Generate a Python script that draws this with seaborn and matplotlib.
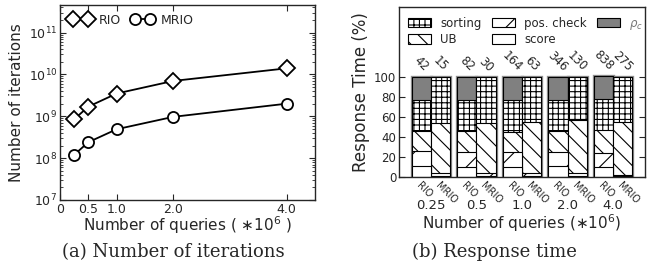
import seaborn as sns
import matplotlib.pyplot as plt
import matplotlib.patches as mpatches
import pandas as pd
import numpy as np

# data
queries = [0.25, 0.5, 1.0, 2.0, 4.0]
rio_iters = [8.5e8, 1.7e9, 3.5e9, 7.0e9, 1.4e10]
mrio_iters = [1.2e8, 2.4e8, 4.9e8, 9.7e8, 2.0e9]

sizes = ['0.25', '0.5', '1.0', '2.0', '4.0']
methods = ['RIO', 'MRIO']
components = ['score', 'pos. check', 'UB', 'sorting', r'$\rho_c$']
rio_score = [11, 10, 10, 11, 10]
rio_pos = [15, 15, 15, 14, 14]
rio_ub = [20, 21, 20, 21, 23]
rio_sort = [31, 31, 32, 31, 31]
rio_rho = [23, 23, 23, 23, 23]
mrio_score = [1, 1, 1, 1, 1]
mrio_pos = [3, 3, 3, 3, 1]
mrio_ub = [50, 50, 51, 53, 53]
mrio_sort = [46, 46, 45, 43, 45]
mrio_rho = [0, 0, 0, 0, 0]
rio_time = [42, 82, 164, 346, 838]
mrio_time = [15, 30, 63, 130, 275]

sns.set_style('ticks')
plt.rcParams['font.family'] = ['DejaVu Sans']
plt.rcParams['xtick.direction'] = 'in'
plt.rcParams['ytick.direction'] = 'in'
plt.rcParams['hatch.linewidth'] = 0.8

fig = plt.figure(figsize=(6.61, 2.72), dpi=100)

# ---- (a) number of iterations
ax1 = fig.add_axes([0.0908, 0.265, 0.3858, 0.717])
mk = dict(color='black', linewidth=1.3, markerfacecolor='white',
          markeredgecolor='black', markeredgewidth=1.3)
sns.lineplot(x=queries, y=rio_iters, marker='D', markersize=8, label='RIO', ax=ax1, **mk)
sns.lineplot(x=queries, y=mrio_iters, marker='o', markersize=8, label='MRIO', ax=ax1, **mk)
ax1.set_yscale('log')
ax1.set_ylim(1e7, 4.6e11)
ax1.set_xlim(0, 4.5)
ax1.set_xticks([0, 0.5, 1.0, 2.0, 4.0])
ax1.set_xticklabels(['0', '0.5', '1.0', '2.0', '4.0'])
ax1.tick_params(which='both', top=True, right=True, labelsize=9, pad=2)
ax1.tick_params(which='major', length=4)
ax1.tick_params(which='minor', length=2)
ax1.set_xlabel(r'Number of queries ( $\ast10^6$ )', fontsize=11, labelpad=-1)
ax1.set_ylabel('Number of iterations', fontsize=11, labelpad=3)
ax1.legend(loc='upper left', ncol=2, frameon=False, numpoints=2, handlelength=1.8,
           columnspacing=0.8, handletextpad=0.6, fontsize=9, borderaxespad=0.3)
for s in ax1.spines.values():
    s.set_linewidth(1.0)

# ---- (b) response time
ax2 = fig.add_axes([0.6036, 0.349, 0.3722, 0.625])
rows = []
for i, sz in enumerate(sizes):
    for m, parts in (('RIO', (rio_score, rio_pos, rio_ub, rio_sort, rio_rho)),
                     ('MRIO', (mrio_score, mrio_pos, mrio_ub, mrio_sort, mrio_rho))):
        row = {'size': sz, 'method': m}
        for c, p in zip(components, parts):
            row[c] = p[i]
        rows.append(row)
df = pd.DataFrame(rows)
cum = df[components].cumsum(axis=1)
cum['size'] = df['size']
cum['method'] = df['method']

styles = {
    'score': ('white', ''),
    'pos. check': ('white', '/'),
    'UB': ('white', '\\\\'),
    'sorting': ('white', '+++'),
    r'$\rho_c$': ('#808080', ''),
}

# gray outline first
sns.barplot(data=cum, x='size', y=components[-1], hue='method', hue_order=methods,
            dodge=True, width=0.85, palette=['white', 'white'], saturation=1,
            edgecolor='#909090', linewidth=2.4, legend=False, ax=ax2)
for comp in components[::-1]:
    n0 = len(ax2.patches)
    face, hatch = styles[comp]
    sns.barplot(data=cum, x='size', y=comp, hue='method', hue_order=methods,
                dodge=True, width=0.85, palette=[face, face], saturation=1,
                edgecolor='black', linewidth=0.8, legend=False, ax=ax2)
    for p in ax2.patches[n0:]:
        p.set_hatch(hatch)

bars = sorted(ax2.patches[n0:], key=lambda p: p.get_x())
centers = [p.get_x() + p.get_width() / 2 for p in bars]
times = []
for a, b in zip(rio_time, mrio_time):
    times += [a, b]
tops = cum[r'$\rho_c$'].tolist()
for x, t, top in zip(centers, times, tops):
    ax2.text(x, top + 3, str(t), rotation=-45, ha='center', va='bottom', fontsize=8.5)

ax2.set_ylim(0, 170)
ax2.set_xlim(-0.7, 4.7)
ax2.set_yticks([0, 20, 40, 60, 80, 100])
ax2.tick_params(axis='y', right=True, labelsize=8.5, pad=2, length=4)
ax2.set_xticks(centers, minor=True)
ax2.set_xticklabels(['RIO', 'MRIO'] * 5, minor=True, rotation=-45, ha='left',
                    rotation_mode='anchor', fontsize=7)
ax2.tick_params(axis='x', which='minor', length=3, pad=2)
ax2.tick_params(axis='x', which='major', length=0, pad=16, labelsize=9.5)
ax2.set_xlabel(r'Number of queries ($\ast10^6$)', fontsize=11, labelpad=0)
ax2.set_ylabel('Response Time (%)', fontsize=12, labelpad=3)
for s in ax2.spines.values():
    s.set_linewidth(1.0)

handles = [mpatches.Patch(facecolor=styles[c][0], hatch=styles[c][1], edgecolor='black',
                          linewidth=0.8, label=c)
           for c in ['sorting', 'UB', 'pos. check', 'score', r'$\rho_c$']]
leg = ax2.legend(handles=handles, loc='upper left', ncol=3, frameon=False, fontsize=8.5,
                 handlelength=1.9, handleheight=0.9, handletextpad=0.8,
                 columnspacing=0.9, labelspacing=0.3, borderaxespad=0.4)
leg.get_texts()[-1].set_color('#777777')

cap = dict(ha='center', va='center', fontsize=13, family=['DejaVu Serif'])
fig.text(0.262, 0.073, '(a) Number of iterations', **cap)
fig.text(0.748, 0.073, '(b) Response time', **cap)

fig.savefig('out.png', dpi=100)
